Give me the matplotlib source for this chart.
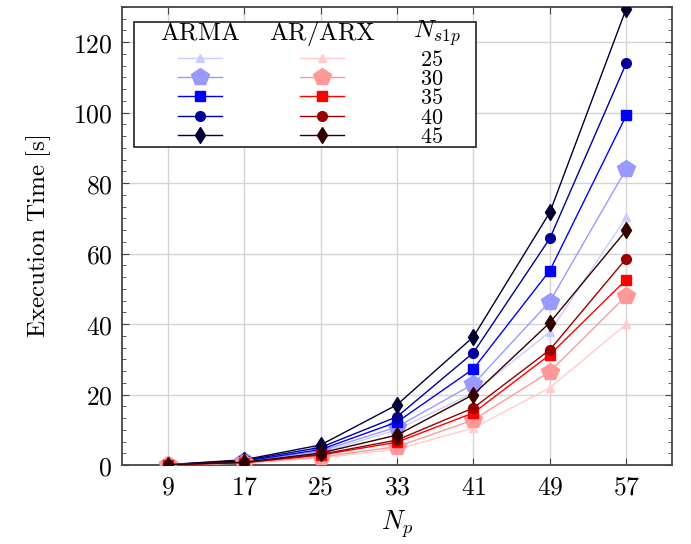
import matplotlib
matplotlib.use("Agg")
from matplotlib import pyplot as plt
from matplotlib.lines import Line2D
from matplotlib.patches import Rectangle
from matplotlib.ticker import AutoMinorLocator

plt.rcParams['mathtext.fontset'] = 'cm'
plt.rcParams['font.family'] = 'serif'
plt.rcParams['font.serif'] = ['DejaVu Serif']

# Data
n_p = [9, 17, 25, 33, 41, 49, 57]
n_s1p = [25, 30, 35, 40, 45]

arma_times = {
    25: [0.1, 0.9, 3.5, 10.0, 20.5, 37.8, 70.3],
    30: [0.1, 1.0, 4.0, 10.8, 23.0, 46.4, 84.0],
    35: [0.1, 1.1, 4.4, 12.2, 27.3, 55.2, 99.2],
    40: [0.1, 1.3, 5.0, 13.7, 31.9, 64.3, 114.0],
    45: [0.1, 1.5, 5.7, 17.1, 36.4, 71.7, 129.5],
}
ar_times = {
    25: [0.1, 0.5, 2.0, 4.5, 10.5, 21.9, 40.0],
    30: [0.1, 0.6, 2.3, 5.2, 12.8, 26.5, 48.0],
    35: [0.1, 0.7, 2.8, 6.5, 14.8, 31.3, 52.6],
    40: [0.1, 0.7, 3.0, 7.1, 16.2, 32.7, 58.6],
    45: [0.1, 0.8, 3.4, 8.5, 20.0, 40.4, 66.6],
}

# Styles
arma_colors = ['#ccccff', '#9999ff', '#0000ff', '#000099', '#000033']
ar_colors = ['#ffcccc', '#ff9999', '#ff0000', '#990000', '#330000']
markers = ['^', 'p', 's', 'o', 'd']
msizes = [6, 13, 6.5, 7, 8]

fig = plt.figure(figsize=(6.91, 5.44), dpi=100)
ax = fig.add_axes([0.1766, 0.1452, 0.796, 0.842])

for i, n in enumerate(n_s1p):
    ax.plot(n_p, arma_times[n], color=arma_colors[i], marker=markers[i],
            markersize=msizes[i], linewidth=1.0, zorder=3)
for i, n in enumerate(n_s1p):
    ax.plot(n_p, ar_times[n], color=ar_colors[i], marker=markers[i],
            markersize=msizes[i], linewidth=1.0, zorder=3)

ax.set_xlim(4.2, 61.8)
ax.set_ylim(0, 130)
ax.set_xticks(n_p)
ax.set_xticklabels([f'${v}$' for v in n_p])
ax.set_yticks(range(0, 121, 20))
ax.set_yticklabels([f'${v}$' for v in range(0, 121, 20)])
ax.yaxis.set_minor_locator(AutoMinorLocator(6))
ax.tick_params(axis='both', which='both', direction='in', top=True, right=True,
               labelsize=18.5, color='#444444')
ax.tick_params(axis='both', which='major', length=5, pad=7)
ax.tick_params(axis='both', which='minor', length=3)
ax.tick_params(axis='x', which='minor', bottom=False, top=False)
ax.grid(True, which='major', color='#d4d4d4', linewidth=1.0, zorder=0)
ax.set_axisbelow(True)
for s in ax.spines.values():
    s.set_color('#444444')
    s.set_linewidth(1.3)

ax.set_xlabel('$N_p$', fontsize=19, labelpad=6)
ax.set_ylabel(r'$\mathrm{Execution\ Time\ [s]}$', fontsize=18, labelpad=14)

# Legend laid out as a small table
ax.add_patch(Rectangle((0.022, 0.694), 0.622, 0.273, transform=ax.transAxes,
                       facecolor='white', edgecolor='#222222', linewidth=1.2, zorder=5))
hy = 0.943
ax.text(0.142, hy, r'$\mathrm{ARMA}$', transform=ax.transAxes, ha='center', va='center',
        fontsize=18, zorder=6)
ax.text(0.364, hy, r'$\mathrm{AR/ARX}$', transform=ax.transAxes, ha='center', va='center',
        fontsize=18, zorder=6)
ax.text(0.573, hy, r'$N_{s1p}$', transform=ax.transAxes, ha='center', va='center',
        fontsize=18, zorder=6)
rows = [0.889, 0.847, 0.806, 0.762, 0.721]
for i, n in enumerate(n_s1p):
    y = rows[i]
    for x0, cols in ((0.102, arma_colors), (0.324, ar_colors)):
        ax.add_line(Line2D([x0, x0 + 0.08], [y, y], transform=ax.transAxes,
                           color=cols[i], linewidth=1.0, zorder=6))
        ax.add_line(Line2D([x0 + 0.04], [y], transform=ax.transAxes, color=cols[i],
                           marker=markers[i], markersize=msizes[i], linestyle='none', zorder=7))
    ax.text(0.584, y - 0.004, f'${n}$', transform=ax.transAxes, ha='right', va='center',
            fontsize=16, zorder=6)

fig.savefig('out.png', dpi=100)
